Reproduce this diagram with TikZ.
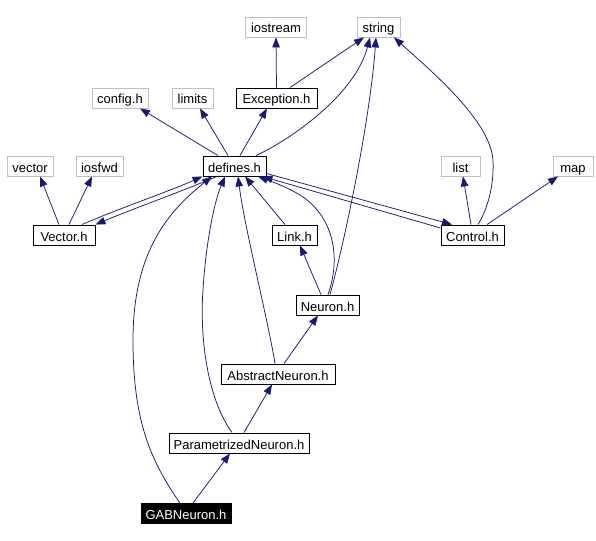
\documentclass[tikz,border=0pt]{standalone}
\usepackage{fontspec}
\setmainfont{Liberation Sans}
\usetikzlibrary{arrows.meta}
\definecolor{edgecol}{HTML}{191970}
\definecolor{extgray}{HTML}{BFBFBF}
\tikzset{
  box/.style={draw=black, line width=0.9pt, inner sep=0pt, minimum height=20pt, text height=13pt, text depth=1pt, font=\fontsize{13}{15}\selectfont},
  ext/.style={box, draw=extgray},
  hl/.style={box, fill=black, text=white},
  dep/.style={draw=edgecol, line width=0.75pt, -{Triangle[length=10pt,width=7.5pt]}},
}
\begin{document}
\begin{tikzpicture}[x=1pt,y=-1pt]
\useasboundingbox (0,0) rectangle (596,540);
% nodes
\node[ext, minimum width=61pt] (iostream) at (276,27) {iostream};
\node[ext, minimum width=43pt] (string) at (378.5,27) {string};
\node[ext, minimum width=56pt] (config) at (120,98) {config.h};
\node[ext, minimum width=41pt] (limits) at (192.5,98) {limits};
\node[box, minimum width=81pt] (Exception) at (276.5,98) {Exception.h};
\node[box, minimum width=63pt] (defines) at (234.5,166) {defines.h};
\node[ext, minimum width=46pt] (vector) at (30,166) {vector};
\node[ext, minimum width=47pt] (iosfwd) at (99.5,166) {iosfwd};
\node[ext, minimum width=39pt] (list) at (460.5,166) {list};
\node[ext, minimum width=40pt] (map) at (573,166) {map};
\node[box, minimum width=62pt] (Vector) at (64,235) {Vector.h};
\node[box, minimum width=45pt] (Link) at (294.5,235) {Link.h};
\node[box, minimum width=63pt] (Control) at (472.5,235) {Control.h};
\node[box, minimum width=63pt] (Neuron) at (327.5,305) {Neuron.h};
\node[box, minimum width=114pt] (Abstract) at (278,374) {AbstractNeuron.h};
\node[box, minimum width=140pt] (Param) at (239,443) {ParametrizedNeuron.h};
\node[hl, minimum width=90pt] (GAB) at (186,513.5) {GABNeuron.h};
% edges
\draw[dep] (Exception.north) -- (iostream.south);
\draw[dep] ([xshift=13.5pt]Exception.north) -- ([xshift=-14.5pt]string.south);
\draw[dep] ([xshift=-16.5pt]defines.north) -- ([xshift=20pt]config.south);
\draw[dep] ([xshift=-6.5pt]defines.north) -- ([xshift=7.5pt]limits.south);
\draw[dep] ([xshift=5.5pt]defines.north) -- ([xshift=-9.5pt]Exception.south);
\draw[dep] ([xshift=21.5pt]defines.north) .. controls (290,140) and (355,95) .. ([xshift=-8.5pt]string.south);
\draw[dep] ([xshift=-5pt]Vector.north) -- ([xshift=10pt]vector.south);
\draw[dep] ([xshift=5pt]Vector.north) -- ([xshift=-7.5pt]iosfwd.south);
\draw[dep] ([xshift=18pt]Vector.north) .. controls (120,208) and (165,193) .. (defines.south west);
\draw[dep] ([xshift=-17.5pt]defines.south) .. controls (180,192) and (130,210) .. (Vector.north east);
\draw[dep] ([xshift=-9.5pt]Link.north) -- ([xshift=10.5pt]defines.south);
\draw[dep] ([yshift=3pt]defines.south east) -- ([xshift=-20.5pt]Control.north);
\draw[dep] ([yshift=7pt]Control.west) -- ([xshift=-4pt]defines.south east);
\draw[dep] ([xshift=-1.5pt]Control.north) -- ([xshift=2.5pt]list.south);
\draw[dep] ([xshift=14.5pt]Control.north) -- ([xshift=-15pt]map.south);
\draw[dep] ([xshift=5.5pt]Control.north) .. controls (490,205) and (494,180) .. (493,160) .. controls (490,120) and (430,70) .. ([xshift=15.5pt]string.south);
\draw[dep] ([xshift=-6.5pt]Neuron.north) -- ([xshift=5.5pt]Link.south);
\draw[dep] ([xshift=0.5pt]Neuron.north) .. controls (342,255) and (332,215) .. (300,195) .. controls (285,186) and (270,181) .. ([xshift=23.5pt]defines.south);
\draw[dep] ([xshift=2.5pt]Neuron.north) .. controls (345,240) and (370,120) .. ([xshift=-2.5pt]string.south);
\draw[dep] ([xshift=6pt]Abstract.north) -- ([xshift=-9.5pt]Neuron.south);
\draw[dep] ([xshift=-3pt]Abstract.north) .. controls (268,320) and (245,230) .. ([xshift=3.5pt]defines.south);
\draw[dep] ([xshift=5pt]Param.north) -- ([xshift=-6pt]Abstract.south);
\draw[dep] ([xshift=-7pt]Param.north) .. controls (205,395) and (200,330) .. (203,290) .. controls (206,240) and (215,200) .. ([xshift=-9.5pt]defines.south);
\draw[dep] ([xshift=7pt]GAB.north) -- ([xshift=-9pt]Param.south);
\draw[dep] ([xshift=-6pt]GAB.north) .. controls (150,460) and (133,420) .. (133,340) .. controls (133,250) and (170,210) .. ([xshift=-22.5pt]defines.south);
\end{tikzpicture}
\end{document}
